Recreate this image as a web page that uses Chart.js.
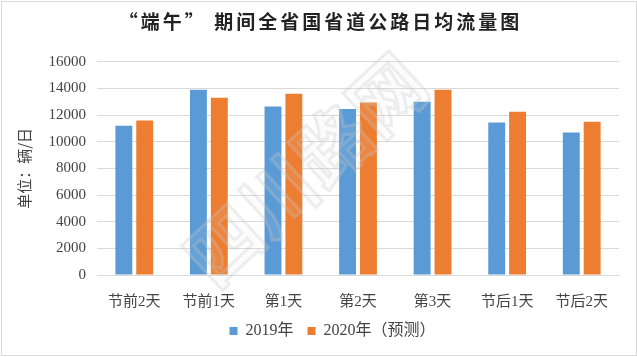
<!DOCTYPE html>
<html>
<head>
<meta charset="utf-8">
<script src="https://cdn.jsdelivr.net/npm/chart.js@4/dist/chart.umd.min.js"></script>
<style>
html,body{margin:0;padding:0;background:#fff;}
#wrap{position:relative;width:637px;height:357px;}
#frame{position:absolute;left:1px;top:1px;width:634px;height:353px;border:1px solid #d9d9d9;pointer-events:none;}
</style>
</head>
<body>
<div id="wrap">
<canvas id="c" width="637" height="357"></canvas>
<div id="frame"></div>
</div>
<script>
const titleText = '“端午” 期间全省国省道公路日均流量图';
const yAxisTitle = '单位：辆/日';
const categories = ['节前2天','节前1天','第1天','第2天','第3天','节后1天','节后2天'];
const seriesNames = ['2019年','2020年（预测）'];
const values2019 = [11200, 13900, 12650, 12450, 13000, 11450, 10700];
const values2020 = [11600, 13300, 13600, 12950, 13900, 12250, 11500];
const yTicks = [0,2000,4000,6000,8000,10000,12000,14000,16000];
const watermark = '四川路网';

const serifCJK = '"Liberation Serif", "Noto Sans CJK SC", serif';

const watermarkPlugin = {
  id: 'wm',
  afterDraw(chart) {
    const ctx = chart.ctx;
    ctx.save();
    ctx.translate(305, 170);
    ctx.rotate(-Math.PI / 4.2);
    ctx.font = 'bold 74px "Noto Sans CJK SC"';
    ctx.textAlign = 'center';
    ctx.textBaseline = 'middle';
    ctx.lineWidth = 3;
    ctx.strokeStyle = 'rgba(200,200,200,0.3)';
    ctx.fillStyle = 'rgba(230,230,230,0.1)';
    ctx.fillText(watermark, 0, 0);
    ctx.strokeText(watermark, 0, 0);
    ctx.restore();
  }
};

// letter-spaced title, drawn by Chart.js's own title block
const titleSpacing = {
  id: 'titleSpacing',
  beforeDraw(chart) {
    const tb = chart.titleBlock;
    if (tb && !tb._spaced) {
      const orig = tb.draw.bind(tb);
      tb.draw = function () {
        const ctx = chart.ctx;
        ctx.save();
        ctx.letterSpacing = '3px';
        ctx.translate(-12, 0);
        orig();
        ctx.restore();
      };
      tb._spaced = true;
    }
  }
};

new Chart(document.getElementById('c'), {
  type: 'bar',
  data: {
    labels: categories,
    datasets: [
      { label: seriesNames[0], data: values2019, backgroundColor: '#5B9BD5', categoryPercentage: 0.56, barPercentage: 0.81 },
      { label: seriesNames[1], data: values2020, backgroundColor: '#ED7D31', categoryPercentage: 0.56, barPercentage: 0.81 }
    ]
  },
  options: {
    responsive: false,
    animation: false,
    devicePixelRatio: 1,
    layout: { padding: { left: 46, right: 18, top: 0, bottom: 8 } },
    plugins: {
      title: {
        display: true,
        text: titleText,
        color: '#222',
        font: { family: '"Noto Sans CJK SC"', size: 19, weight: 'bold' },
        padding: { top: 10, bottom: 29 }
      },
      legend: {
        position: 'bottom',
        labels: {
          color: '#444',
          font: { family: serifCJK, size: 16 },
          boxWidth: 8, boxHeight: 8,
          padding: 14
        }
      },
      tooltip: { enabled: false }
    },
    scales: {
      x: {
        grid: { display: false },
        border: { display: true, color: '#d9d9d9' },
        ticks: { color: '#444', font: { family: serifCJK, size: 15 }, padding: 10, maxRotation: 0 },
        afterFit(scale) { scale.height = 34; }
      },
      y: {
        min: 0, max: 16000,
        afterBuildTicks(scale) { scale.ticks = yTicks.map(v => ({ value: v })); },
        grid: { color: '#d9d9d9', drawTicks: false },
        border: { display: false },
        ticks: { color: '#444', font: { family: serifCJK, size: 15 }, padding: 11, callback: v => String(v) },
        title: { display: true, text: yAxisTitle, color: '#444', font: { family: '"Noto Sans CJK SC"', size: 15 }, padding: { top: -31, bottom: 0 } },
        afterFit(scale) { scale.width = 51; }
      }
    }
  },
  plugins: [titleSpacing, watermarkPlugin]
});
</script>
</body>
</html>
